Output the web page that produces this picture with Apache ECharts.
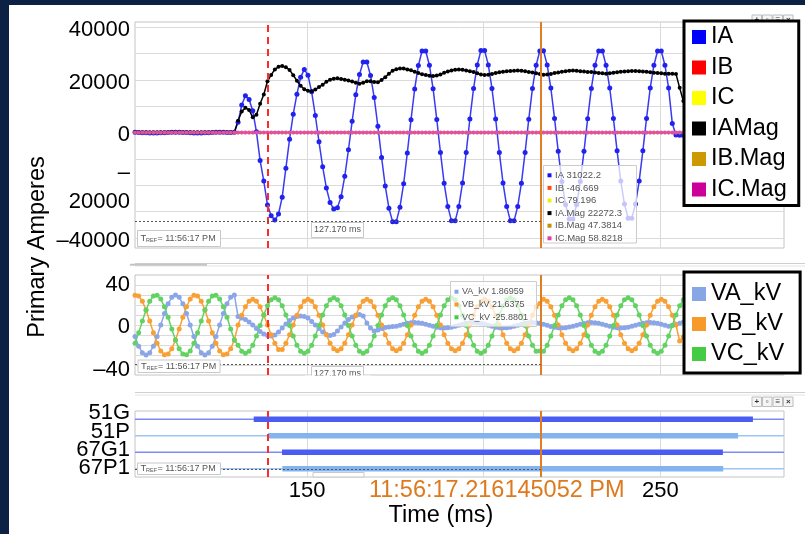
<!DOCTYPE html>
<html><head><meta charset="utf-8">
<script src="https://cdn.jsdelivr.net/npm/echarts@6/dist/echarts.min.js"></script>
<style>
html,body{margin:0;padding:0;background:#fff;overflow:hidden;}
#chart{position:absolute;left:0;top:0;width:805px;height:534px;}
#frameTop{position:absolute;left:0;top:0;width:805px;height:5px;background:#0c2144;}
#frameLeft{position:absolute;left:0;top:0;width:9px;height:534px;background:#0c2144;}
</style></head><body>
<div id="chart"></div><div id="frameTop"></div><div id="frameLeft"></div>
<script>
// ---------- time base (960 samples/s) ----------
const sampleStartMs = 101.3;
const sampleStepMs = 1000 / 960;
const timeMinMs = 101.3;
const timeMaxMs = 285;
const timeTickValues = [150, 250];
const timeGridValues = [150, 200, 250];
const triggerMs = 138.96;
const cursorMs = 216.145;
const cursorLabel = '11:56:17.216145052 PM';

// ---------- current panel ----------
const currentNames = ['IA', 'IB', 'IC', 'IAMag', 'IB.Mag', 'IC.Mag'];
const ampTickValues = [-40000, -20000, 0, 20000, 40000];
const ampTickLabels = ['\u201340000', '\u2013\n20000', '0', '20000', '40000'];
const ampGridValues = [-40000, -30000, -20000, -10000, 0, 10000, 20000, 30000, 40000];
const measureAmp = -33800;

const seriesIA = [
 120,60,-20,-90,-140,-160,-140,-90,-20,60,120,150,130,80,10,-60,
 -120,-150,-140,-90,-30,50,110,150,140,90,20,100,3900,10500,14000,12600,
 8300,300,-10600,-18400,-27500,-31600,-33200,-30900,-24500,-13500,-2500,7000,14600,21000,24000,21800,
 15500,6500,-3500,-13000,-21000,-26500,-29000,-28500,-24300,-16600,-6500,4300,14400,22100,26800,26800,
 21700,13300,2400,-9400,-20300,-28700,-33800,-33800,-28300,-19400,-7700,4900,16600,25500,31000,31000,
 25600,16700,5000,-7500,-19200,-28000,-33500,-33500,-28000,-19100,-7500,5200,16800,25700,31200,31200,
 25700,16800,5200,-7500,-19100,-28000,-33500,-33500,-28000,-19200,-7500,5100,16800,25600,31022.2,31100,
 25700,16900,5400,-7100,-18600,-27400,-32800,-32800,-27400,-18600,-7100,5300,16800,25600,31000,31000,
 25600,16900,5400,-6900,-18400,-27100,-32500,-32500,-27100,-18400,-6900,5400,16900,25600,31000,31000,
 25600,16900,3500,-900,-1000,-1000,-1000,-1000,-1000,-1000,-1000,-1000,-1000,-1000,-1000,-1000,
 -1000,-1000,-1000,-1000,-1000,-1000,-1000,-1000,-1000,-1000,-1000,-1000,-1000,-1000,-1000,-1000,
 -1000
];
const seriesIB = [
 -33,-18,0,18,33,43,47,43,33,18,0,-18,-33,-43,-47,-43,
 -33,-18,0,18,33,43,47,43,33,18,0,-18,-33,-43,-47,-43,
 -33,-18,0,18,33,43,47,43,33,18,0,-18,-33,-43,-47,-43,
 -33,-18,0,18,33,43,47,43,33,18,0,-18,-33,-43,-47,-43,
 -33,-18,0,18,33,43,47,43,33,18,0,-18,-33,-43,-47,-43,
 -33,-18,0,18,33,43,47,43,33,18,0,-18,-33,-43,-47,-43,
 -33,-18,0,18,33,43,47,43,33,18,0,-18,-33,-43,-46.669,-43,
 -33,-18,0,18,33,43,47,43,33,18,0,-18,-33,-43,-47,-43,
 -33,-18,0,18,33,43,47,43,33,18,0,-18,-33,-43,-47,-43,
 -33,-18,0,18,33,43,47,43,33,18,0,-18,-33,-43,-47,-43,
 -33,-18,0,18,33,43,47,43,33,18,0,-18,-33,-43,-47,-43,
 -33
];
const seriesIC = [
 62,43,20,-3,-22,-35,-39,-35,-22,-3,20,43,62,75,79,75,
 62,43,20,-3,-22,-35,-39,-35,-22,-3,20,43,62,75,79,75,
 62,43,20,-3,-22,-35,-39,-35,-22,-3,20,43,62,75,79,75,
 62,43,20,-3,-22,-35,-39,-35,-22,-3,20,43,62,75,79,75,
 62,43,20,-3,-22,-35,-39,-35,-22,-3,20,43,62,75,79,75,
 62,43,20,-3,-22,-35,-39,-35,-22,-3,20,43,62,75,79,75,
 62,43,20,-3,-22,-35,-39,-35,-22,-3,20,43,62,75,79.196,75,
 62,43,20,-3,-22,-35,-39,-35,-22,-3,20,43,62,75,79,75,
 62,43,20,-3,-22,-35,-39,-35,-22,-3,20,43,62,75,79,75,
 62,43,20,-3,-22,-35,-39,-35,-22,-3,20,43,62,75,79,75,
 62,43,20,-3,-22,-35,-39,-35,-22,-3,20,43,62,75,79,75,
 62
];
const seriesIAMag = [
 150,150,150,150,150,150,150,150,150,150,150,150,150,150,150,150,
 150,150,150,150,150,150,150,150,150,150,150,150,4500,8000,9400,8600,
 5800,6800,11000,14500,19500,21900,24000,25000,25300,24800,23800,21800,19700,17800,16500,15900,
 15700,16400,17300,18200,19300,20100,20500,20600,20400,20100,19800,19400,18900,18600,18900,19500,
 19500,19200,19100,20000,21000,22400,23500,24100,24300,24300,24000,23700,23100,22600,22200,21900,
 21600,21500,21700,22100,22700,23200,23600,23900,24000,23900,23600,23300,23000,22500,22100,21900,
 22000,22300,22600,22900,23100,23300,23400,23500,23600,23500,23300,23000,22800,22500,22272.3,22000,
 22100,22300,22600,22800,23100,23300,23500,23600,23500,23300,23200,23000,23000,22800,22600,22500,
 22400,22500,22700,22900,23100,23200,23300,23400,23400,23300,23200,23100,22900,22700,22600,22500,
 22400,22400,22400,22300,17000,12000,8000,5000,2800,1400,600,250,100,100,100,100,
 100,100,100,100,100,100,100,100,100,100,100,100,100,100,100,100,
 100
];
const seriesIBMag = [
 47.4,47.4,47.4,47.4,47.4,47.4,47.4,47.4,47.4,47.4,47.4,47.4,47.4,47.4,47.4,47.4,
 47.4,47.4,47.4,47.4,47.4,47.4,47.4,47.4,47.4,47.4,47.4,47.4,47.4,47.4,47.4,47.4,
 47.4,47.4,47.4,47.4,47.4,47.4,47.4,47.4,47.4,47.4,47.4,47.4,47.4,47.4,47.4,47.4,
 47.4,47.4,47.4,47.4,47.4,47.4,47.4,47.4,47.4,47.4,47.4,47.4,47.4,47.4,47.4,47.4,
 47.4,47.4,47.4,47.4,47.4,47.4,47.4,47.4,47.4,47.4,47.4,47.4,47.4,47.4,47.4,47.4,
 47.4,47.4,47.4,47.4,47.4,47.4,47.4,47.4,47.4,47.4,47.4,47.4,47.4,47.4,47.4,47.4,
 47.4,47.4,47.4,47.4,47.4,47.4,47.4,47.4,47.4,47.4,47.4,47.4,47.4,47.4,47.3814,47.4,
 47.4,47.4,47.4,47.4,47.4,47.4,47.4,47.4,47.4,47.4,47.4,47.4,47.4,47.4,47.4,47.4,
 47.4,47.4,47.4,47.4,47.4,47.4,47.4,47.4,47.4,47.4,47.4,47.4,47.4,47.4,47.4,47.4,
 47.4,47.4,47.4,47.4,47.4,47.4,47.4,47.4,47.4,47.4,47.4,47.4,47.4,47.4,47.4,47.4,
 47.4,47.4,47.4,47.4,47.4,47.4,47.4,47.4,47.4,47.4,47.4,47.4,47.4,47.4,47.4,47.4,
 47.4
];
const seriesICMag = [
 58.8,58.8,58.8,58.8,58.8,58.8,58.8,58.8,58.8,58.8,58.8,58.8,58.8,58.8,58.8,58.8,
 58.8,58.8,58.8,58.8,58.8,58.8,58.8,58.8,58.8,58.8,58.8,58.8,58.8,58.8,58.8,58.8,
 58.8,58.8,58.8,58.8,58.8,58.8,58.8,58.8,58.8,58.8,58.8,58.8,58.8,58.8,58.8,58.8,
 58.8,58.8,58.8,58.8,58.8,58.8,58.8,58.8,58.8,58.8,58.8,58.8,58.8,58.8,58.8,58.8,
 58.8,58.8,58.8,58.8,58.8,58.8,58.8,58.8,58.8,58.8,58.8,58.8,58.8,58.8,58.8,58.8,
 58.8,58.8,58.8,58.8,58.8,58.8,58.8,58.8,58.8,58.8,58.8,58.8,58.8,58.8,58.8,58.8,
 58.8,58.8,58.8,58.8,58.8,58.8,58.8,58.8,58.8,58.8,58.8,58.8,58.8,58.8,58.8218,58.8,
 58.8,58.8,58.8,58.8,58.8,58.8,58.8,58.8,58.8,58.8,58.8,58.8,58.8,58.8,58.8,58.8,
 58.8,58.8,58.8,58.8,58.8,58.8,58.8,58.8,58.8,58.8,58.8,58.8,58.8,58.8,58.8,58.8,
 58.8,58.8,58.8,58.8,58.8,58.8,58.8,58.8,58.8,58.8,58.8,58.8,58.8,58.8,58.8,58.8,
 58.8,58.8,58.8,58.8,58.8,58.8,58.8,58.8,58.8,58.8,58.8,58.8,58.8,58.8,58.8,58.8,
 58.8
];

// ---------- voltage panel ----------
const voltageNames = ['VA_kV', 'VB_kV', 'VC_kV'];
const kvTickValues = [-40, 0, 40];
const kvTickLabels = ['\u201340', '0', '40'];
const kvGridValues = [-40, -30, -20, -10, 0, 10, 20, 30, 40];
const measureKv = -39;

const seriesVA = [
 -11.5,-21.2,-27.7,-30,-27.7,-21.2,-11.5,0,11.5,21.2,27.7,30,27.7,21.2,11.5,0,
 -11.5,-21.2,-27.7,-30,-27.7,-21.2,-11.5,0,11.5,21.2,27.7,30,8.5,7,5.5,3,
 0,-3.5,-6.5,-9,-10.5,-11,-10,-7,-3,1,4.5,7,8.5,9,8.5,7,
 3.5,0,-3.5,-7,-9.5,-10.5,-9.5,-6,-2,2,5.5,8,9.5,10.5,9,2,
 -3,-6,-5,-3.5,-2.5,-2,-1.5,-1.3,-0.3,0.8,1.7,2.3,2.5,2.3,1.7,0.8,
 -0.3,-1.3,-2.2,-2.8,-3,-2.8,-2.2,-1.3,-0.3,0.8,1.7,2.3,2.5,2.3,1.7,0.8,
 -0.3,-1.3,-2.2,-2.8,-3,-2.8,-2.2,-1.3,-0.3,0.8,1.7,2.3,2.5,2.3,1.87,0.8,
 -0.3,-1.4,-2.2,-2.7,-3,-2.8,-2.1,-1.3,-0.2,0.8,1.6,2.3,2.5,2.2,1.7,0.8,
 -0.3,-1.3,-2.2,-2.8,-3,-2.8,-2.2,-1.3,-0.3,0.8,1.7,2.3,2.5,2.3,1.7,0.8,
 -0.3,-1.3,-0.3,0.6,1.7,3,2,1,0.5,0.3,0.2,0.2,0.1,0.1,0.1,0.1,
 0.1,0,0.1,0,0.1,0,0.1,0,0.1,0,0.1,0,0.1,0,0.1,0,
 0.1
];
const seriesVB = [
 29.7,29,23.8,15,3.9,-7.8,-18.3,-26,-29.7,-29,-23.8,-15,-3.9,7.8,18.3,26,
 29.7,29,23.8,15,3.9,-7.8,-18.3,-26,-29.7,-29,-23.8,-15,0,9.8,18.2,23.7,
 25.7,23.7,18.2,9.8,0,-9.8,-18.2,-24.5,-24.5,-18.2,-9.8,0,9.8,18.2,23.7,25.7,
 23.7,18.2,9.8,0,-9.8,-18.2,-23.7,-25.7,-23.7,-18.2,-9.8,0,9.8,18.2,23.7,25.7,
 23.7,18.2,9.8,0,-9.8,-18.2,-23.7,-25.7,-23.7,-18.2,-9.8,0,9.8,18.2,23.7,25.7,
 23.7,18.2,9.8,0,-9.8,-18.2,-23.7,-25.7,-23.7,-18.2,-9.8,0,9.8,18.2,23.7,25.7,
 23.7,18.2,9.8,0,-9.8,-18.2,-23.7,-25.7,-23.7,-18.2,-9.8,0,9.8,18.2,21.6,25.7,
 23.7,18.2,9.8,0,-9.8,-18.2,-23.7,-25.7,-23.7,-18.2,-9.8,0,9.8,18.2,23.7,25.7,
 23.7,18.2,9.8,0,-9.8,-18.2,-23.7,-25.7,-23.7,-18.2,-9.8,0,9.8,18.2,23.7,25.7,
 23.7,18.2,9.8,0,-16,-12,-7,-4,-2,-1,-0.5,-0.3,-0.2,-0.1,-0.1,0,
 0,0,0,0,0,0,0,0,0,0,0,0,0,0,0,0,
 0
];
const seriesVC = [
 -18.3,-7.8,3.9,15,23.8,29,29.7,26,18.3,7.8,-3.9,-15,-23.8,-29,-29.7,-26,
 -18.3,-7.8,3.9,15,23.8,29,29.7,26,18.3,7.8,-3.9,-15,-20.2,-26.2,-28.3,-26.2,
 -20.2,-11.1,-0.5,10.1,19.2,25.2,27.3,25.2,19.2,10.1,-0.5,-11.1,-20.2,-26.2,-28.3,-26.2,
 -20.2,-11.1,-0.5,10.1,19.2,25.2,27.3,25.2,19.2,10.1,-0.5,-11.1,-20.2,-26.2,-28.3,-26.2,
 -20.2,-11.1,-0.5,10.1,19.2,25.2,27.3,25.2,19.2,10.1,-0.5,-11.1,-20.2,-26.2,-28.3,-26.2,
 -20.2,-11.1,-0.5,10.1,19.2,25.2,27.3,25.2,19.2,10.1,-0.5,-11.1,-20.2,-26.2,-28.3,-26.2,
 -20.2,-11.1,-0.5,10.1,19.2,25.2,27.3,25.2,19.2,10.1,-0.5,-11.1,-20.2,-26.2,-25.9,-26.2,
 -20.2,-11.1,-0.5,10.1,19.2,25.2,27.3,25.2,19.2,10.1,-0.5,-11.1,-20.2,-26.2,-28.3,-26.2,
 -20.2,-11.1,-0.5,10.1,19.2,25.2,27.3,25.2,19.2,10.1,-0.5,-11.1,-20.2,-26.2,-28.3,-26.2,
 -20.2,-11.1,-0.5,10.1,19.2,25.2,18,11,6,3,1.5,0.8,0.4,0.2,0.1,0,
 0,0,0,0,0,0,0,0,0,0,0,0,0,0,0,0,
 0
];

// ---------- digital channels ----------
const channelNames = ['51G', '51P', '67G1', '67P1'];
const channelOnStartMs = [134.9, 139.0, 142.9, 143.0];
const channelOnEndMs = [276.2, 272.0, 267.7, 267.8];

// ---------- cursor readouts ----------
const readoutCurrentNames = ['IA', 'IB', 'IC', 'IA.Mag', 'IB.Mag', 'IC.Mag'];
const readoutCurrentValues = ['31022.2', '-46.669', '79.196', '22272.3', '47.3814', '58.8218'];
const readoutVoltageNames = ['VA_kV', 'VB_kV', 'VC_kV'];
const readoutVoltageValues = ['1.86959', '21.6375', '-25.8801'];
const trefText = '= 11:56:17 PM';
const deltaText = '127.170 ms';

// ================= build =================
const FONT = '"Liberation Sans", Arial, sans-serif';
const times = seriesIA.map((_, i) => +(sampleStartMs + i * sampleStepMs).toFixed(4));
const toPairs = arr => arr.map((v, i) => [times[i], v]);

const currentColors = ['#3a3af3', '#ff2a00', '#f2ea00', '#000000', '#c89600', '#e0529f'];
const currentDotColors = ['#2222ee', '#ff2a00', '#eeee00', '#000000', '#c89600', '#e0529f'];
const currentLegendColors = ['#0000ff', '#ff0000', '#ffff00', '#000000', '#cc9900', '#cc0099'];
const currentReadColors = ['#1414f0', '#ff4a10', '#f0f000', '#000000', '#c09000', '#e040a0'];
const voltageColors = ['#8aa6e8', '#f8a034', '#62d262'];
const voltageLegendColors = ['#86a6e6', '#f79a2a', '#44cc44'];
const channelBarColors = ['#4b5cf2', '#84b4f0', '#4b5cf2', '#84b4f0'];
const channelBaseColors = ['#7c8cf4', '#9cc6f4', '#7c8cf4', '#9cc6f4'];
const channelLabelLift = [12, 8, 4, 2];
const kvLabelDrop = [10, 4, 0];

function gridLines(yVals) {
  return {
    silent: true, symbol: ['none', 'none'], z: 1, label: { show: false },
    emphasis: { disabled: true },
    lineStyle: { color: '#dadada', width: 1, type: 'solid' },
    data: (yVals || []).map(v => ({ yAxis: v })).concat(timeGridValues.map(v => ({ xAxis: v })))
  };
}
function cursorLines(from, to, withLabel) {
  return {
    silent: true, symbol: ['none', 'none'], z: 6, label: { show: false },
    emphasis: { disabled: true },
    data: [
      { xAxis: triggerMs, lineStyle: { color: '#ff2a2a', width: 2, type: [7, 5] } },
      { xAxis: cursorMs, lineStyle: { color: '#e07d22', width: 2, type: 'solid' },
        label: withLabel ? { show: true, position: 'start', distance: 2, formatter: cursorLabel,
          color: '#dd7a1e', fontSize: 23.5, fontFamily: FONT, padding: [0, 88, 0, 0] } : { show: false } },
      [{ coord: from, lineStyle: { color: '#555', width: 1, type: [2, 2] } }, { coord: to }]
    ]
  };
}
function wave(name, data, color, dot, size, width, idx, extra) {
  return Object.assign({
    name, type: 'line', xAxisIndex: idx, yAxisIndex: idx, data: toPairs(data),
    symbol: 'circle', symbolSize: size, showSymbol: true, showAllSymbol: true,
    lineStyle: { color, width }, itemStyle: { color: dot },
    emphasis: { disabled: true }, silent: true, animation: false
  }, extra || {});
}

const series = [
  wave('IA', seriesIA, currentColors[0], currentDotColors[0], 5, 1.5, 0, { markLine: gridLines(ampGridValues) }),
  wave('IB', seriesIB, currentColors[1], currentDotColors[1], 3, 1, 0),
  wave('IC', seriesIC, currentColors[2], currentDotColors[2], 3, 1.5, 0),
  wave('IAMag', seriesIAMag, currentColors[3], currentDotColors[3], 4, 1.5, 0),
  wave('IB.Mag', seriesIBMag, currentColors[4], currentDotColors[4], 3, 1, 0),
  wave('IC.Mag', seriesICMag, currentColors[5], currentDotColors[5], 4, 2, 0,
    { markLine: cursorLines([timeMinMs, measureAmp], [cursorMs, measureAmp], false) }),
  wave('VA_kV', seriesVA, voltageColors[0], voltageColors[0], 5, 1.5, 1, { markLine: gridLines(kvGridValues) }),
  wave('VB_kV', seriesVB, voltageColors[1], voltageColors[1], 5, 1.5, 1),
  wave('VC_kV', seriesVC, voltageColors[2], voltageColors[2], 5, 1.5, 1,
    { markLine: cursorLines([timeMinMs, measureKv], [cursorMs, measureKv], false) })
];
channelNames.forEach((ch, k) => {
  series.push({
    name: ch + ' base', type: 'line', xAxisIndex: 2, yAxisIndex: 2, symbol: 'none', silent: true,
    data: [[timeMinMs, ch], [timeMaxMs, ch]], lineStyle: { color: channelBaseColors[k], width: 1.5 },
    emphasis: { disabled: true }, animation: false,
    markLine: k === 0 ? gridLines([]) : undefined
  });
});
channelNames.forEach((ch, k) => {
  series.push({
    name: ch, type: 'line', xAxisIndex: 2, yAxisIndex: 2, symbol: 'none', silent: true,
    data: [[channelOnStartMs[k], ch], [channelOnEndMs[k], ch]],
    lineStyle: { color: channelBarColors[k], width: 5.5, cap: 'butt' },
    emphasis: { disabled: true }, animation: false,
    markLine: k === channelNames.length - 1
      ? cursorLines([timeMinMs, ch], [cursorMs, ch], true) : undefined
  });
});

function legendBox(names, colors, top, pad, gap) {
  return {
    data: names.map((n, k) => ({ name: n, itemStyle: { color: colors[k] } })),
    orient: 'vertical', left: 684, top, icon: 'rect', itemWidth: 14, itemHeight: 14, itemGap: gap,
    padding: pad, borderColor: '#000', borderWidth: 3, backgroundColor: '#fff',
    selectedMode: false, z: 20,
    textStyle: { fontSize: 23.5, color: '#000', fontFamily: FONT }
  };
}

const axisBase = { axisLine: { show: false }, axisTick: { show: false }, splitLine: { show: false } };
const xAxes = [0, 1, 2].map(i => Object.assign({}, axisBase, {
  type: 'value', gridIndex: i, min: timeMinMs, max: timeMaxMs,
  axisLabel: i === 2 ? { customValues: timeTickValues, fontSize: 22, color: '#000', fontFamily: FONT, margin: 3 } : { show: false },
  name: i === 2 ? 'Time (ms)' : '', nameLocation: 'middle', nameGap: 27,
  nameTextStyle: { fontSize: 23.5, color: '#000', fontFamily: FONT, padding: [0, 37, 0, 0] }
}));
const labelStyle = { fontSize: 22, color: '#000', fontFamily: FONT };
const channelRich = {};
channelLabelLift.forEach((p, k) => { channelRich['c' + k] = Object.assign({ padding: [0, 0, p, 0] }, labelStyle); });
const kvRich = {};
kvLabelDrop.forEach((p, k) => { kvRich['k' + k] = Object.assign({ padding: [p, 0, 0, 0] }, labelStyle); });
const ampRich = { a: Object.assign({ padding: [5, 0, 0, 0], lineHeight: 29 }, labelStyle) };
const yAxes = [
  Object.assign({}, axisBase, { type: 'value', gridIndex: 0, min: -43800, max: 42000,
    axisLabel: { customValues: ampTickValues, margin: 5, rich: ampRich,
      formatter: v => { const t = ampTickLabels[ampTickValues.indexOf(v)]; return t ? t.split('\n').map(s => '{a|' + s + '}').join('\n') : ''; } } }),
  Object.assign({}, axisBase, { type: 'value', gridIndex: 1, min: -50, max: 50,
    axisLabel: { customValues: kvTickValues, margin: 5, rich: kvRich,
      formatter: v => { const k = kvTickValues.indexOf(v); return k < 0 ? '' : '{k' + k + '|' + kvTickLabels[k] + '}'; } } }),
  Object.assign({}, axisBase, { type: 'category', gridIndex: 2, data: channelNames.slice().reverse(),
    axisLabel: { interval: 0, margin: 5, rich: channelRich,
      formatter: v => '{c' + channelNames.indexOf(v) + '|' + v + '}' } })
];

// ----- overlays (readouts, reference boxes, separators) -----
const TXT = '#555';
const g = [];
function hline(x1, x2, y, color, w) { g.push({ type: 'line', shape: { x1, y1: y, x2, y2: y }, style: { stroke: color, lineWidth: w }, z: 2, silent: true }); }
hline(135, 805, 263.5, '#cfcfcf', 1); hline(135, 805, 266, '#e4e4e4', 1); hline(130, 207, 264.8, '#c4c4c4', 2);
hline(135, 805, 392.5, '#cfcfcf', 1); hline(135, 805, 395, '#e4e4e4', 1);

function readout(x, y, w, h, names, values, colors, row0, step, fs) {
  g.push({ type: 'rect', shape: { x, y, width: w, height: h }, style: { fill: 'rgba(255,255,255,0.74)', stroke: '#cccccc', lineWidth: 1 }, z: 30, silent: true });
  names.forEach((n, k) => {
    const cy = row0 + k * step;
    g.push({ type: 'rect', shape: { x: x + 4, y: cy - 2, width: 4, height: 4 }, style: { fill: colors[k] }, z: 31, silent: true });
    g.push({ type: 'text', x: x + 11.5, y: cy, style: { text: n + ' ' + values[k], fill: TXT, font: fs + 'px ' + FONT, verticalAlign: 'middle', align: 'left' }, z: 31, silent: true });
  });
}
readout(543.5, 165.5, 93, 77.5, readoutCurrentNames, readoutCurrentValues, currentReadColors, 175.3, 12.6, 9.5);
readout(450.5, 281.5, 86, 45, readoutVoltageNames, readoutVoltageValues, voltageLegendColors, 291.7, 12.8, 9);

function tref(x, y, w, h) {
  const cy = y + h / 2;
  g.push({ type: 'rect', shape: { x, y, width: w, height: h }, style: { fill: '#fff', stroke: '#c8c8c8', lineWidth: 1 }, z: 30, silent: true });
  g.push({ type: 'text', x: x + 3, y: cy, style: { text: 'T', fill: TXT, font: '9.5px ' + FONT, verticalAlign: 'middle' }, z: 31, silent: true });
  g.push({ type: 'text', x: x + 8.5, y: cy + 2, style: { text: 'REF', fill: TXT, font: '5.5px ' + FONT, verticalAlign: 'middle' }, z: 31, silent: true });
  g.push({ type: 'text', x: x + 20, y: cy, style: { text: trefText, fill: TXT, font: '9px ' + FONT, verticalAlign: 'middle' }, z: 31, silent: true });
}
tref(137.5, 230.5, 83, 16);
tref(138, 360, 82, 12.5);
tref(137.5, 463, 83, 11.5);

function delta(x, y, w, h, cy) {
  g.push({ type: 'rect', shape: { x, y, width: w, height: h }, style: { fill: '#fff', stroke: '#c8c8c8', lineWidth: 1 }, z: 30, silent: true });
  if (cy) g.push({ type: 'text', x: x + w / 2, y: cy, style: { text: deltaText, fill: TXT, font: '9px ' + FONT, align: 'center', verticalAlign: 'middle' }, z: 31, silent: true });
}
delta(311.5, 222.5, 52, 15, 230);
delta(311.5, 366.5, 52, 14, 373.5);
g.push({ type: 'rect', shape: { x: 305, y: 375.6, width: 66, height: 12 }, style: { fill: '#fff' }, z: 32, silent: true });
delta(313, 472.5, 51, 4.5, 0);

function icons(y) {
  ['+', '\u25ab', '\u2261', '\u00d7'].forEach((c, k) => {
    const x = 752 + k * 10.5;
    g.push({ type: 'rect', shape: { x, y, width: 9.5, height: 9.5 }, style: { fill: '#f5f5f5', stroke: '#bdbdbd', lineWidth: 1 }, z: 3, silent: true });
    g.push({ type: 'text', x: x + 4.75, y: y + 4.9, style: { text: c, fill: '#333', font: 'bold 8px ' + FONT, align: 'center', verticalAlign: 'middle' }, z: 4, silent: true });
  });
}
icons(397); icons(15);

g.push({ type: 'text', x: 38, y: 247, rotation: Math.PI / 2, style: { text: 'Primary Amperes', fill: '#000', font: '23.5px ' + FONT, align: 'center', verticalAlign: 'middle' }, z: 5, silent: true });

const option = {
  animation: false,
  backgroundColor: '#fff',
  textStyle: { fontFamily: FONT },
  grid: [
    { left: 135, top: 22, width: 649, height: 226, show: true, borderColor: '#c4c4c4', borderWidth: 1, backgroundColor: '#fff', containLabel: false, outerBoundsMode: 'none' },
    { left: 135, top: 275, width: 649, height: 100, show: true, borderColor: '#c4c4c4', borderWidth: 1, backgroundColor: '#fff', containLabel: false, outerBoundsMode: 'none' },
    { left: 135, top: 411, width: 649, height: 66, show: true, borderColor: '#c4c4c4', borderWidth: 1, backgroundColor: '#fff', containLabel: false, outerBoundsMode: 'none' }
  ],
  xAxis: xAxes,
  yAxis: yAxes,
  legend: [
    legendBox(currentNames, currentLegendColors, 21, [4, 12, 4, 8], 6.5),
    legendBox(voltageNames, voltageLegendColors, 272, [10, 16, 7, 8], 6)
  ],
  tooltip: { show: false },
  graphic: { elements: g },
  series
};
const chart = echarts.init(document.getElementById('chart'), null, { renderer: 'canvas' });
chart.setOption(option);
</script></body></html>
